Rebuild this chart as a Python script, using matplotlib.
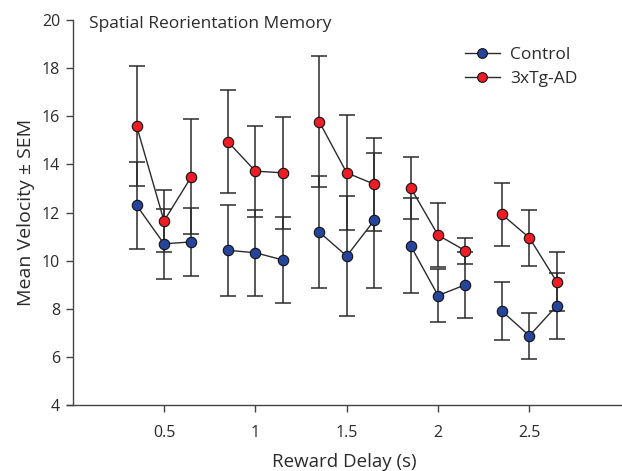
import numpy as np
import matplotlib
matplotlib.use('Agg')
import matplotlib.pyplot as plt
from matplotlib.lines import Line2D

plt.rcParams['font.family'] = ['Open Sans', 'DejaVu Sans']

delays = [0.5, 1.0, 1.5, 2.0, 2.5]
control_mean = [[12.3, 10.7, 10.78], [10.43, 10.33, 10.03], [11.19, 10.19, 11.67],
                [10.62, 8.55, 9.0], [7.9, 6.88, 8.13]]
control_sem = [[1.8, 1.45, 1.4], [1.88, 1.78, 1.78], [2.34, 2.5, 2.8],
               [1.97, 1.1, 1.37], [1.2, 0.96, 1.37]]
tg_mean = [[15.6, 11.65, 13.49], [14.94, 13.72, 13.65], [15.77, 13.65, 13.18],
           [13.03, 11.06, 10.41], [11.92, 10.95, 9.12]]
tg_sem = [[2.5, 1.3, 2.4], [2.14, 1.89, 2.33], [2.72, 2.39, 1.93],
          [1.28, 1.32, 0.53], [1.31, 1.17, 1.22]]
labels = ['Control', '3xTg-AD']
colors = ['#27449c', '#ee1c25']

offsets = np.array([-0.15, 0.0, 0.15])
ink = '#2b2b2b'

fig = plt.figure(figsize=(6.22, 4.71), dpi=100)
ax = fig.add_axes([0.108, 0.14, 0.89, 0.8175])

for k, (means, sems) in enumerate([(control_mean, control_sem), (tg_mean, tg_sem)]):
    for d, m, s in zip(delays, means, sems):
        xs = d + offsets
        ax.errorbar(xs, m, yerr=s, fmt='none', ecolor=ink, elinewidth=1.1,
                    capsize=6, capthick=1.1, zorder=2)
        ax.plot(xs, m, '-', color=ink, lw=1.0, zorder=3 + k)
        ax.plot(xs, m, 'o', ms=7.5, mfc=colors[k], mec='#111111', mew=0.8,
                zorder=5 + k)

ax.set_xlim(-0.03, 3.0)
ax.set_ylim(4, 20)
ax.spines['left'].set_position(('data', 0))
ax.spines['top'].set_visible(False)
ax.spines['right'].set_visible(False)
for sp in ['left', 'bottom']:
    ax.spines[sp].set_color('#444444')
    ax.spines[sp].set_linewidth(1.0)

ax.set_xticks(delays)
ax.set_xticklabels(['0.5', '1', '1.5', '2', '2.5'])
ax.set_yticks(np.arange(4, 21, 2))
ax.tick_params(direction='out', length=5, width=1.0, color='#444444',
               labelsize=11.5, labelcolor=ink, pad=4)
ax.tick_params(axis='x', pad=9)

ax.set_xlabel('Reward Delay (s)', fontsize=13.5, color=ink, labelpad=9)
ax.set_ylabel('Mean Velocity \u00b1 SEM', fontsize=14, color=ink, labelpad=5)
ax.text(0.088, 19.85, 'Spatial Reorientation Memory', fontsize=12.5, color=ink,
        va='center', ha='left')

handles = [Line2D([], [], color=ink, lw=1.0, marker='o', ms=7, mfc=c,
                  mec='#111111', mew=0.8) for c in colors]
ax.legend(handles, labels, loc='upper right', bbox_to_anchor=(0.95, 0.97),
          frameon=False, fontsize=12.5, handlelength=2.0, labelspacing=0.45,
          handletextpad=0.6, labelcolor=ink)

fig.savefig('out.png', dpi=100)
